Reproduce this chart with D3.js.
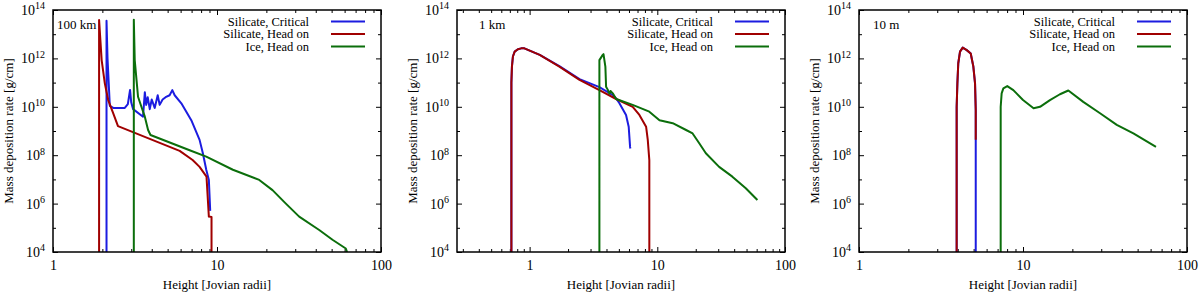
<!DOCTYPE html>
<html>
<head>
<meta charset="utf-8">
<script src="https://cdnjs.cloudflare.com/ajax/libs/d3/7.8.5/d3.min.js"></script>
<style>
  body { margin: 0; background: #fff; }
  svg, svg text { font-family: "Liberation Serif", "Times New Roman", serif; }
</style>
</head>
<body>
<div class="svg-container"></div>
<script>
// legend / series names
var seriesNames = ["Silicate, Critical", "Silicate, Head on", "Ice, Head on"];
var panelLabels = ["100 km", "1 km", "10 m"];

// axes
var xDomains = [[1, 100], [0.27, 100], [1, 100]];
var xTickValues = [1, 10, 100];
var yDomain = [1e4, 1e14];
var yTickValues = [1e4, 1e6, 1e8, 1e10, 1e12, 1e14];
var yMinorValues = [1e5, 1e7, 1e9, 1e11, 1e13];

// 100 km impactor  [height, rate]
var critical100km = [[2.12, 1e4], [2.12, 3.6e13], [2.15, 1e12], [2.22, 1.1e10], [2.33, 9e9], [2.74, 9e9],
  [2.86, 1.3e10], [2.95, 5e10], [3.0, 1.5e10], [3.08, 8e9], [3.54, 3.9e9], [3.63, 4e10], [3.7, 1.2e10],
  [3.78, 2.5e10], [3.89, 8e9], [4.0, 2e10], [4.17, 9e9], [4.35, 3e10], [4.47, 1.2e10], [4.66, 2e10],
  [4.86, 2.5e10], [5.14, 3e10], [5.34, 4.9e10], [5.52, 3e10], [6.06, 1.4e10], [6.97, 2.8e9], [7.83, 4.3e8],
  [8.2, 1.2e8], [8.6, 2.5e7], [8.92, 9.5e6], [9.09, 5e5]];
var headOn100km = [[1.91, 1e4], [1.91, 3.9e13], [1.98, 8.5e11], [2.07, 9.3e10], [2.17, 1.9e10], [2.33, 5.4e9],
  [2.49, 1.6e9], [5.92, 1.5e8], [7.1, 6.3e7], [7.83, 3.3e7], [8.63, 1.3e7], [8.92, 2.9e5], [9.26, 2.8e5],
  [9.26, 1e4]];
var ice100km = [[3.11, 1e4], [3.11, 4e13], [3.15, 8.5e11], [3.23, 1.3e11], [3.3, 2.6e10], [3.46, 1e10],
  [3.63, 3.9e9], [3.8, 1.1e9], [3.93, 6.8e8], [6.81, 1.6e8], [8.6, 8.7e7], [12.5, 2.5e7], [18.1, 9.5e6],
  [21.8, 3.6e6], [26.3, 1e6], [31.7, 2.9e5], [42, 8.1e4], [50.6, 3.2e4], [61, 1.4e4], [62.1, 1e4]];

// 1 km impactor
var critical1km = [[0.72, 1e4], [0.72, 1e11], [0.727, 4.6e11], [0.74, 1.2e12], [0.764, 1.9e12], [0.81, 2.4e12],
  [0.86, 2.6e12], [0.91, 2.6e12], [1.2, 1.4e12], [1.71, 4.8e11], [2.46, 1.4e11], [3.52, 6.5e10], [4.5, 3e10],
  [4.76, 2.2e10], [5.05, 1.4e10], [5.69, 4.6e9], [5.97, 1.5e9], [6.12, 2.2e8], [6.15, 1.9e8]];
var headOn1km = [[0.72, 1e4], [0.72, 1e11], [0.727, 4.6e11], [0.74, 1.2e12], [0.764, 1.9e12], [0.81, 2.4e12],
  [0.86, 2.6e12], [0.91, 2.6e12], [1.2, 1.4e12], [1.71, 4.6e11], [2.46, 1.3e11], [3.52, 4.9e10], [4.76, 2.1e10],
  [6.42, 1e10], [7.24, 4.6e9], [8.17, 1.5e9], [8.42, 4.3e8], [8.66, 6.3e7], [8.66, 1e4]];
var ice1km = [[3.52, 1e4], [3.52, 8.5e11], [3.74, 1.4e12], [3.79, 1.5e12], [3.92, 4.6e11], [3.97, 6.8e10],
  [4.1, 5e10], [4.22, 3.5e10], [4.3, 4.5e10], [4.48, 3.6e10], [4.76, 2.1e10], [6.41, 1.2e10], [8.66, 6.3e9],
  [10.4, 2.8e9], [13.2, 2.1e9], [16.8, 1.1e9], [18.9, 7.9e8], [21.3, 3.1e8], [24, 1.2e8], [30.5, 3.3e7],
  [38.7, 1.3e7], [49.3, 4.3e6], [60.8, 1.4e6]];

// 10 m impactor
var critical10m = [[3.94, 1e4], [3.94, 1e10], [3.98, 9.3e10], [4.03, 6.3e11], [4.13, 1.9e12], [4.29, 2.8e12],
  [4.54, 2.2e12], [4.8, 1.6e12], [4.98, 4.6e11], [5.1, 9.3e10], [5.15, 7.4e9], [5.15, 1e4]];
var headOn10m = [[3.94, 1e4], [3.94, 1e10], [3.98, 9.3e10], [4.03, 6.3e11], [4.13, 1.9e12], [4.29, 2.8e12],
  [4.54, 2.2e12], [4.8, 1.6e12], [4.98, 4.6e11], [5.1, 9.3e10], [5.15, 7.4e9], [5.15, 4.3e8]];
var ice10m = [[7.31, 1e4], [7.31, 1e10], [7.41, 3.6e10], [7.59, 5.8e10], [8.02, 7.2e10], [8.73, 4.9e10],
  [10.0, 1.9e10], [11.6, 8.7e9], [12.7, 1e10], [14.6, 1.9e10], [16.8, 3.3e10], [18.9, 4.7e10], [23.3, 1.6e10],
  [29.5, 5.4e9], [37.3, 1.8e9], [47.1, 7.9e8], [64.7, 2.2e8]];

var panelSeries = [
  [critical100km, headOn100km, ice100km],
  [critical1km, headOn1km, ice1km],
  [critical10m, headOn10m, ice10m]
];

var colors = ["#1c1ce0", "#a00000", "#0b6e0b"];
var fontFamily = '"Liberation Serif", "Times New Roman", serif';
var width = 1200, height = 292;
var plotLefts = [53, 457, 859];
var plotWidth = 328;
var plotTop = 10, plotBottom = 252;
var labelOffsets = [4, 22, 14];

var svg = d3.select('.svg-container').append('svg')
  .attr('width', width)
  .attr('height', height)
  .attr('font-family', fontFamily);

panelSeries.forEach(function(series, p) {
  var left = plotLefts[p], right = left + plotWidth;

  var x = d3.scaleLog().domain(xDomains[p]).range([left, right]);
  var y = d3.scaleLog().domain(yDomain).range([plotBottom, plotTop]);

  var g = svg.append('g');

  svg.append('clipPath').attr('id', 'clip' + p)
    .append('rect')
    .attr('x', left).attr('y', plotTop)
    .attr('width', plotWidth).attr('height', plotBottom - plotTop);

  var xMinor = x.ticks().filter(function(d) { return xTickValues.indexOf(d) < 0; });

  // bottom axis
  g.append('g')
    .attr('transform', 'translate(0,' + plotBottom + ')')
    .call(d3.axisBottom(x).tickValues(xTickValues).tickSize(-5).tickPadding(8)
      .tickFormat(function(d) { return d; }));
  g.append('g')
    .attr('transform', 'translate(0,' + plotBottom + ')')
    .call(d3.axisBottom(x).tickValues(xMinor).tickSize(-3).tickFormat(''));
  // top mirror
  g.append('g')
    .attr('transform', 'translate(0,' + plotTop + ')')
    .call(d3.axisTop(x).tickValues(xTickValues).tickSize(-5).tickFormat(''));
  g.append('g')
    .attr('transform', 'translate(0,' + plotTop + ')')
    .call(d3.axisTop(x).tickValues(xMinor).tickSize(-3).tickFormat(''));

  // left axis
  var yAxis = g.append('g')
    .attr('transform', 'translate(' + left + ',0)')
    .call(d3.axisLeft(y).tickValues(yTickValues).tickSize(-5).tickPadding(8));
  g.append('g')
    .attr('transform', 'translate(' + left + ',0)')
    .call(d3.axisLeft(y).tickValues(yMinorValues).tickSize(-3).tickFormat(''));
  // right mirror
  g.append('g')
    .attr('transform', 'translate(' + right + ',0)')
    .call(d3.axisRight(y).tickValues(yTickValues).tickSize(-5).tickFormat(''));
  g.append('g')
    .attr('transform', 'translate(' + right + ',0)')
    .call(d3.axisRight(y).tickValues(yMinorValues).tickSize(-3).tickFormat(''));

  g.selectAll('.domain').remove();
  g.selectAll('g').attr('font-family', fontFamily).attr('font-size', null);
  g.selectAll('.tick line').attr('stroke', '#000').attr('stroke-width', 1);
  g.selectAll('.tick text').attr('fill', '#000').attr('font-size', 14);

  yAxis.selectAll('.tick text').text(null).each(function(d) {
    var t = d3.select(this);
    t.append('tspan').text('10');
    t.append('tspan')
      .attr('dy', '-0.55em')
      .attr('font-size', 10)
      .text(Math.round(Math.log10(d)));
  });

  // curves
  var line = d3.line()
    .x(function(d) { return x(d[0]); })
    .y(function(d) { return y(d[1]); });

  g.append('g').attr('clip-path', 'url(#clip' + p + ')')
    .selectAll('path')
    .data(series)
    .enter().append('path')
    .attr('d', line)
    .attr('fill', 'none')
    .attr('stroke', function(d, i) { return colors[i]; })
    .attr('stroke-width', 2)
    .attr('stroke-linejoin', 'round');

  // frame
  g.append('rect')
    .attr('x', left).attr('y', plotTop)
    .attr('width', plotWidth).attr('height', plotBottom - plotTop)
    .attr('fill', 'none')
    .attr('stroke', '#000')
    .attr('stroke-width', 1.5);

  // legend
  var legend = g.selectAll('.legend')
    .data(seriesNames)
    .enter().append('g')
    .attr('class', 'legend')
    .attr('transform', function(d, i) { return 'translate(' + right + ',' + (plotTop + 11.5 + i * 12.5) + ')'; });
  legend.append('text')
    .attr('x', -72)
    .attr('dy', '0.33em')
    .attr('text-anchor', 'end')
    .attr('font-size', 12.5)
    .text(function(d) { return d; });
  legend.append('line')
    .attr('x1', -50).attr('x2', -16)
    .attr('stroke', function(d, i) { return colors[i]; })
    .attr('stroke-width', 2);

  // panel label
  g.append('text')
    .attr('x', left + labelOffsets[p])
    .attr('y', 24)
    .attr('dy', '0.35em')
    .attr('font-size', 13)
    .text(panelLabels[p]);

  // axis titles
  g.append('text')
    .attr('x', (left + right) / 2)
    .attr('y', 289)
    .attr('text-anchor', 'middle')
    .attr('font-size', 13)
    .text('Height [Jovian radii]');
  g.append('text')
    .attr('transform', 'translate(' + (left - 40) + ',' + ((plotTop + plotBottom) / 2) + ') rotate(-90)')
    .attr('text-anchor', 'middle')
    .attr('font-size', 13)
    .text('Mass deposition rate [g/cm]');
});
</script>
</body>
</html>
